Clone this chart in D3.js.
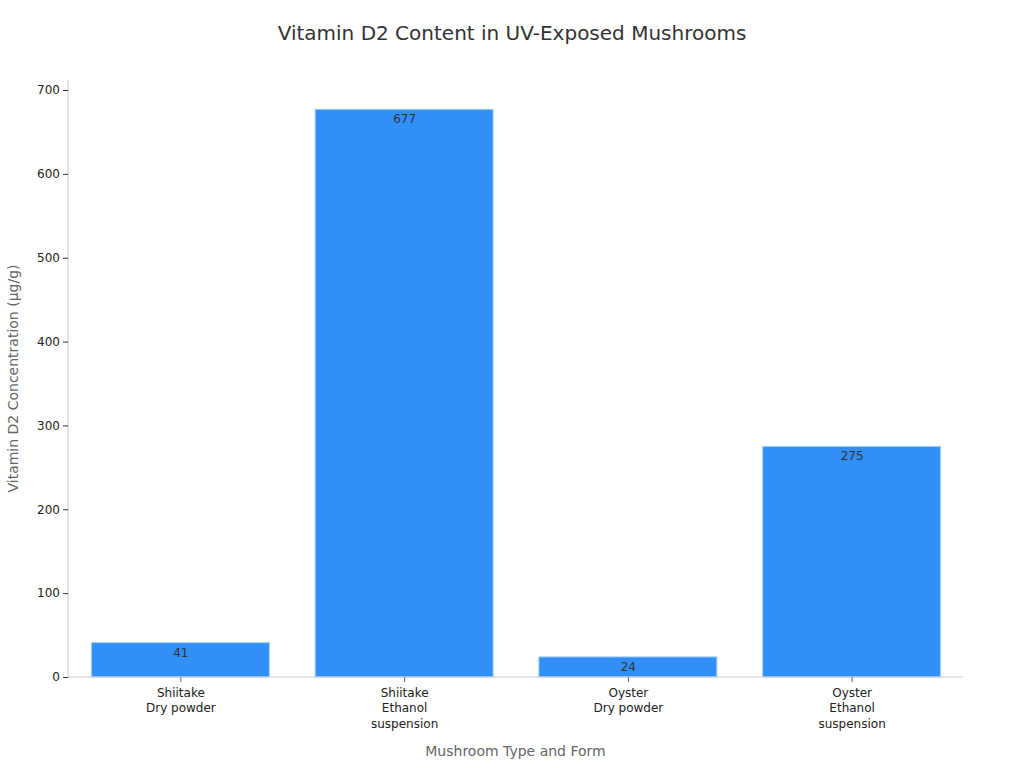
<!DOCTYPE html>
<html>
<head>
<meta charset="utf-8">
<script src="https://cdn.jsdelivr.net/npm/d3@7"></script>
<style>
  body { margin: 0; background: #fff; }
  svg { font-family: "DejaVu Sans", sans-serif; }
</style>
</head>
<body>
<script>
const categories = ["Shiitake\nDry powder", "Shiitake\nEthanol\nsuspension", "Oyster\nDry powder", "Oyster\nEthanol\nsuspension"];
const values = [41, 677, 24, 275];
const yTicks = [0, 100, 200, 300, 400, 500, 600, 700];

const width = 1024, height = 768;
const margin = {top: 90, right: 61, bottom: 91, left: 68};

const svg = d3.select("body").append("svg")
    .attr("width", width)
    .attr("height", height);

const x = d3.scaleBand()
    .domain(categories)
    .range([margin.left + 1, width - margin.right + 1])
    .paddingInner(0.2)
    .paddingOuter(0.1);

const y = d3.scaleLinear()
    .domain([0, 700])
    .range([height - margin.bottom, margin.top]);

svg.append("text")
    .attr("x", 512).attr("y", 40)
    .attr("text-anchor", "middle")
    .attr("font-size", 20)
    .attr("fill", "#333")
    .text("Vitamin D2 Content in UV-Exposed Mushrooms");

// bars
svg.selectAll("rect.bar")
    .data(values)
    .enter().append("rect")
    .attr("class", "bar")
    .attr("x", (d, i) => x(categories[i]))
    .attr("y", d => y(d))
    .attr("width", x.bandwidth() - 1)
    .attr("height", d => y(0) - y(d))
    .attr("fill", "#3090f8")
    .attr("stroke", "#a8d0fb")
    .attr("stroke-width", 1);

svg.selectAll("text.val")
    .data(values)
    .enter().append("text")
    .attr("class", "val")
    .attr("x", (d, i) => x(categories[i]) + x.bandwidth() / 2)
    .attr("y", d => y(d) + 14)
    .attr("text-anchor", "middle")
    .attr("font-size", 12)
    .attr("fill", "#333")
    .text(d => d);

// y axis
const yAxis = svg.append("g")
    .attr("transform", `translate(${margin.left},0)`)
    .call(d3.axisLeft(y).tickValues(yTicks).tickSize(5).tickPadding(3));
yAxis.select(".domain").attr("stroke", "#ccc").attr("d", `M0,${margin.top - 10}V${y(0)}`);
yAxis.selectAll(".tick line").attr("stroke", "#333");
yAxis.selectAll(".tick text").attr("font-size", 12).attr("fill", "#222").attr("font-family", "DejaVu Sans");

// x axis
const xAxis = svg.append("g")
    .attr("transform", `translate(0,${y(0)})`)
    .call(d3.axisBottom(x).tickSize(5).tickPadding(6));
xAxis.select(".domain").attr("stroke", "#ccc").attr("d", `M${margin.left},0H${width - margin.right}`);
xAxis.selectAll(".tick line").attr("stroke", "#666");
xAxis.selectAll(".tick text").each(function(d) {
  const t = d3.select(this).text("").attr("font-size", 12).attr("fill", "#222").attr("font-family", "DejaVu Sans");
  d.split("\n").forEach((line, i) => {
    t.append("tspan").attr("x", 0).attr("dy", i === 0 ? "0.71em" : "1.3em").text(line);
  });
});

svg.append("text")
    .attr("x", (margin.left + width - margin.right) / 2)
    .attr("y", 756)
    .attr("text-anchor", "middle")
    .attr("font-size", 14)
    .attr("fill", "#666")
    .text("Mushroom Type and Form");

svg.append("text")
    .attr("transform", `translate(18,${(margin.top + y(0)) / 2 - 5}) rotate(-90)`)
    .attr("text-anchor", "middle")
    .attr("font-size", 14)
    .attr("fill", "#666")
    .text("Vitamin D2 Concentration (µg/g)");
</script>
</body>
</html>
